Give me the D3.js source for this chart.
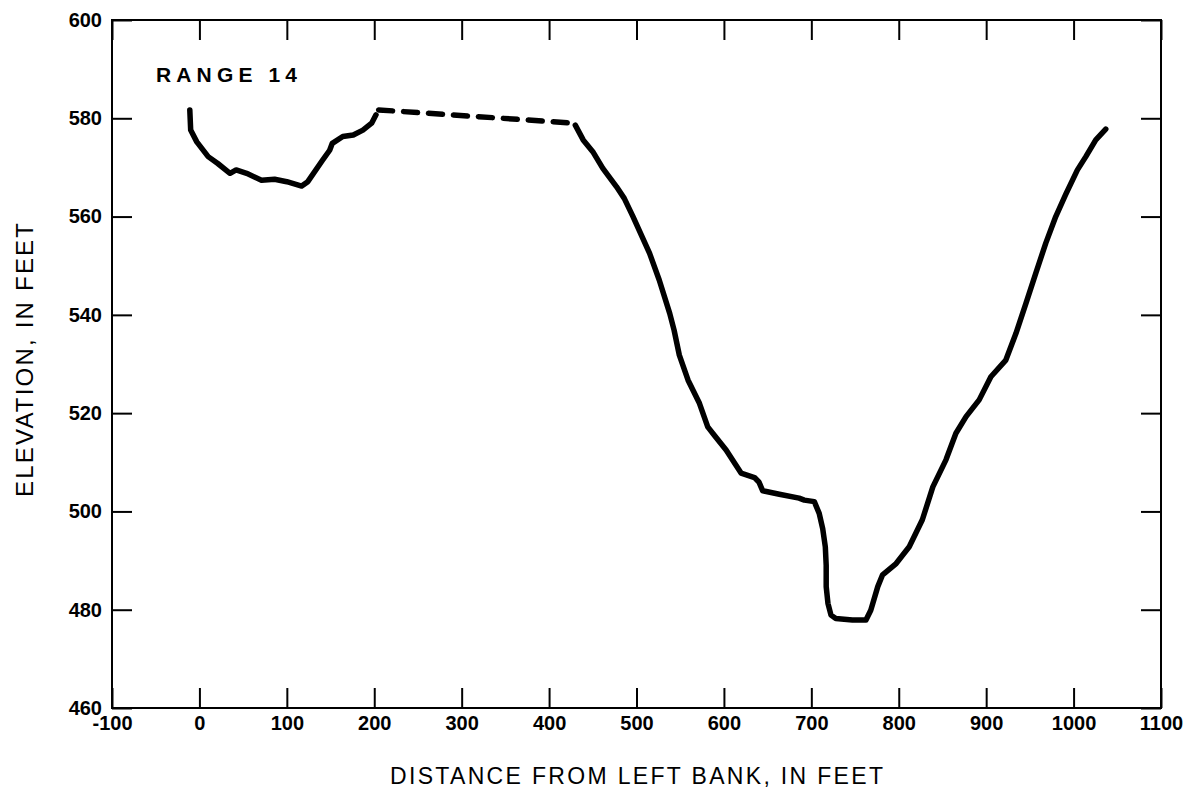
<!DOCTYPE html>
<html>
<head>
<meta charset="utf-8">
<script src="https://cdn.jsdelivr.net/npm/d3@7"></script>
<style>
  body { margin: 0; background: #fff; }
  svg { display: block; }
  text { font-family: "Liberation Sans", Arial, Helvetica, sans-serif; fill: #000; }
</style>
</head>
<body>
<div id="chart"></div>
<script>

//=====================================================
// data (distance ft, elevation ft)
var xTicks = [-100, 0, 100, 200, 300, 400, 500, 600, 700, 800, 900, 1000, 1100];
var yTicks = [460, 480, 500, 520, 540, 560, 580, 600];

var leftBank = [
  [-11, 581.7], [-10, 577.6], [-3, 575.2], [10, 572.2], [21, 570.8], [35, 568.8],
  [42, 569.5], [54, 568.8], [71, 567.4], [86, 567.6], [100, 567.1], [117, 566.2],
  [124, 567.1], [141, 571.5], [149, 573.5], [152, 574.9], [164, 576.3], [176, 576.6],
  [187, 577.6], [197, 579], [202, 580.7]
];

var gapDashed = [[205, 581.7], [421, 579.1]];

var channel = [
  [430, 578.6], [439, 575.6], [450, 573.2], [461.5, 569.8], [477, 566.1], [486, 563.7],
  [496, 560], [515, 552.5], [526, 547.1], [538, 540.3], [543, 536.9], [549, 531.8],
  [559, 526.7], [572, 522], [581.5, 517.2], [589, 515.5], [602.5, 512.5], [619.6, 507.8],
  [635, 506.9], [640, 506], [644.4, 504.2], [663.4, 503.5], [686, 502.7], [692, 502.3],
  [703.4, 502], [709, 499.6], [713, 496.5], [716, 492.8], [717, 489], [717, 484.7],
  [719, 481.3], [722.5, 478.9], [728, 478.2], [747, 477.9], [762.5, 477.9], [768, 479.9],
  [776, 484.7], [781.5, 487.1], [797, 489.4], [812, 492.8], [827, 498.3], [839, 505],
  [854, 510.5], [865.4, 515.9], [877, 519.3], [892, 522.7], [905.4, 527.4], [922.5, 530.8],
  [934, 536.2], [945.4, 542.3], [956.8, 548.5], [968.2, 554.6], [979.6, 560], [991, 564.5],
  [1004.4, 569.5], [1014, 572.2], [1025.4, 575.6], [1036.8, 577.8]
];

//=====================================================
var width = 1188, height = 791;
var plotL = 112, plotR = 1161, plotT = 20, plotB = 708;

var svg = d3.select("#chart").append("svg")
  .attr("width", width)
  .attr("height", height);

var x = d3.scaleLinear().domain([-100, 1100]).range([plotL, plotR]);
var y = d3.scaleLinear().domain([460, 600]).range([plotB, plotT]);

var plain = function(d) { return String(d); };   // keep "-100" with a hyphen

// axes, ticks pointing inward
function styleAxis(g) {
  g.select(".domain").remove();
  g.selectAll(".tick line").attr("stroke", "#000").attr("stroke-width", 2);
  g.selectAll(".tick text")
    .style("font-size", "20px")
    .style("font-weight", "bold")
    .attr("fill", "#000");
}

svg.append("g")
  .attr("transform", "translate(0," + plotB + ")")
  .call(d3.axisBottom(x).tickValues(xTicks).tickSize(-20).tickPadding(8).tickFormat(plain))
  .call(styleAxis);

svg.append("g")
  .attr("transform", "translate(0," + plotT + ")")
  .call(d3.axisTop(x).tickValues(xTicks).tickSize(-20).tickFormat(""))
  .call(styleAxis);

svg.append("g")
  .attr("transform", "translate(" + plotL + ",0)")
  .call(d3.axisLeft(y).tickValues(yTicks).tickSize(-20).tickPadding(10).tickFormat(plain))
  .call(styleAxis);

svg.append("g")
  .attr("transform", "translate(" + plotR + ",0)")
  .call(d3.axisRight(y).tickValues(yTicks).tickSize(-20).tickFormat(""))
  .call(styleAxis);

// frame
svg.append("rect")
  .attr("x", plotL)
  .attr("y", plotT)
  .attr("width", plotR - plotL)
  .attr("height", plotB - plotT)
  .attr("fill", "none")
  .attr("stroke", "#000")
  .attr("stroke-width", 2);

//=====================================================
var line = d3.line()
  .x(function(d) { return x(d[0]); })
  .y(function(d) { return y(d[1]); });

[leftBank, channel].forEach(function(seg) {
  svg.append("path")
    .datum(seg)
    .attr("d", line)
    .attr("fill", "none")
    .attr("stroke", "#000")
    .attr("stroke-width", 5.5)
    .attr("stroke-linejoin", "round")
    .attr("stroke-linecap", "round");
});

svg.append("path")
  .datum(gapDashed)
  .attr("d", line)
  .attr("fill", "none")
  .attr("stroke", "#000")
  .attr("stroke-width", 5.5)
  .attr("stroke-linecap", "round")
  .attr("stroke-dasharray", "14,11");

//=====================================================
// labels
svg.append("text")
  .attr("x", 156)
  .attr("y", 82)
  .attr("textLength", 141)
  .attr("lengthAdjust", "spacing")
  .style("font-size", "21px")
  .style("font-weight", "bold")
  .text("RANGE 14");

svg.append("text")
  .attr("x", 390)
  .attr("y", 784)
  .attr("textLength", 493)
  .attr("lengthAdjust", "spacing")
  .style("font-size", "23px")
  .text("DISTANCE FROM LEFT BANK, IN FEET");

svg.append("text")
  .attr("transform", "translate(33,497) rotate(-90)")
  .attr("textLength", 274)
  .attr("lengthAdjust", "spacing")
  .style("font-size", "24px")
  .text("ELEVATION, IN FEET");

</script>
</body>
</html>
